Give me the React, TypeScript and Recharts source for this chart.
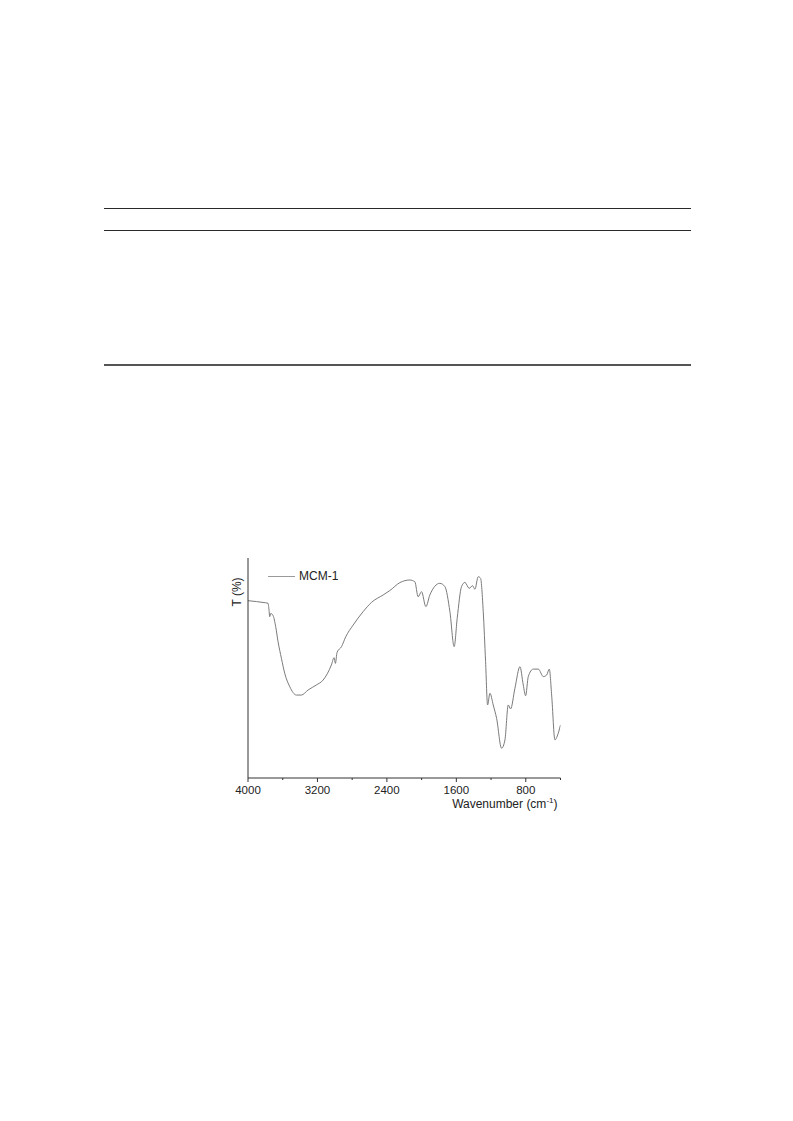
import React from 'react'
import { LineChart, Line, XAxis, YAxis } from 'recharts'

// FTIR spectrum of MCM-1, wavenumber (cm-1) vs transmittance (arb. %)
const WAVENUMBER = [
  4000, 3904, 3827, 3769, 3758, 3750, 3738, 3711, 3681, 3654, 3615, 3577,
  3519, 3442, 3385, 3308, 3212, 3135, 3039, 3008, 2993, 2974, 2923, 2874,
  2789, 2674, 2578, 2443, 2366, 2251, 2136, 2078, 2040, 2001, 1951, 1905,
  1790, 1732, 1674, 1625, 1590, 1540, 1501, 1452, 1413, 1386, 1348, 1321,
  1290, 1263, 1240, 1213, 1175, 1136, 1079, 1040, 1002, 975, 925, 867,
  829, 802, 771, 714, 656, 598, 560, 529, 502, 464, 437, 400,
]
const TRANSMITTANCE = [
  80.6, 80.2, 79.8, 79.4, 76.4, 73.3, 74.8, 73.8, 68.8, 62.0, 54.4, 47.6,
  41.5, 37.7, 37.7, 40.0, 42.3, 44.5, 51.4, 54.7, 52.1, 57.1, 59.7, 64.2,
  69.5, 75.6, 79.8, 83.2, 85.2, 88.8, 90.0, 89.2, 82.4, 84.7, 77.9, 83.2,
  88.5, 87.0, 75.6, 59.7, 72.6, 87.0, 88.9, 86.2, 87.4, 85.8, 91.5, 90.8,
  75.6, 52.9, 33.2, 38.5, 33.2, 27.1, 13.5, 17.3, 33.2, 31.4, 40.8, 50.6,
  42.3, 37.4, 46.1, 49.5, 49.5, 46.1, 46.8, 49.5, 37.7, 17.3, 19.1, 24.1,
]
const X_TICKS = [4000, 3600, 3200, 2800, 2400, 2000, 1600, 1200, 800, 400]
const X_LABELS = [4000, 3200, 2400, 1600, 800]
const SERIES_NAME = 'MCM-1'

const spectrum = WAVENUMBER.map((wn, i) => ({ wn, t: TRANSMITTANCE[i] }))

const AXIS = '#333333'
const TRACE = '#7a7a7a'
const FONT = '"Liberation Sans", Arial, sans-serif'

function WavenumberTick(props: any) {
  const { x, y, payload } = props
  const major = X_LABELS.includes(payload.value)
  return (
    <g>
      <line x1={x} x2={x} y1={y} y2={y + (major ? 4 : 2)} stroke={AXIS} strokeWidth={1} />
      {major && (
        <text x={x} y={y + 16} textAnchor="middle" fontSize={11.5} fontFamily={FONT} fill="#222">
          {payload.value}
        </text>
      )}
    </g>
  )
}

function XTitle(props: any) {
  const { viewBox } = props
  const right = viewBox.x + viewBox.width - 3
  return (
    <text x={right} y={viewBox.y + 30} textAnchor="end" fontSize={12} fontFamily={FONT} fill="#222">
      Wavenumber (cm
      <tspan dy={-5} fontSize={8}>-1</tspan>
      <tspan dy={5}>)</tspan>
    </text>
  )
}

function YTitle(props: any) {
  const { viewBox } = props
  const cx = viewBox.x - 1
  const cy = viewBox.y + 34
  return (
    <text
      x={cx}
      y={cy}
      transform={`rotate(-90 ${cx} ${cy})`}
      textAnchor="middle"
      dominantBaseline="central"
      fontSize={12}
      fontFamily={FONT}
      fill="#222"
    >
      T (%)
    </text>
  )
}

function TableRules() {
  const rule = (top: number, color: string, h: number) => (
    <div
      style={{
        position: 'absolute',
        left: 104,
        width: 587,
        top,
        height: h,
        background: color,
      }}
    />
  )
  return (
    <>
      {rule(208, '#2a2a2a', 1)}
      {rule(230, '#2a2a2a', 1)}
      {rule(364, '#555555', 1.5)}
    </>
  )
}

export default function App() {
  return (
    <div
      style={{
        position: 'absolute',
        left: 0,
        top: 0,
        width: 793,
        height: 1121,
        background: '#fff',
        overflow: 'hidden',
      }}
    >
      <TableRules />
      <div style={{ position: 'absolute', left: 200, top: 540, width: 380, height: 280 }}>
        <LineChart
          width={380}
          height={280}
          data={spectrum}
          margin={{ top: 18, right: 19.5, bottom: 12, left: 38 }}
        >
          <XAxis
            dataKey="wn"
            type="number"
            domain={[400, 4000]}
            reversed
            ticks={X_TICKS}
            interval={0}
            allowDataOverflow
            tickSize={0}
            tickMargin={0}
            tickLine={false}
            axisLine={{ stroke: AXIS, strokeWidth: 1 }}
            tick={<WavenumberTick />}
            height={30}
            label={<XTitle />}
          />
          <YAxis
            type="number"
            domain={[0, 100]}
            width={10}
            tick={false}
            tickLine={false}
            axisLine={{ stroke: AXIS, strokeWidth: 1 }}
            label={<YTitle />}
          />
          <Line
            type="monotone"
            dataKey="t"
            name={SERIES_NAME}
            stroke={TRACE}
            strokeWidth={1}
            dot={false}
            isAnimationActive={false}
          />
        </LineChart>
        <div
          style={{
            position: 'absolute',
            left: 68,
            top: 29,
            display: 'flex',
            alignItems: 'center',
            fontFamily: FONT,
            fontSize: 12,
            color: '#222',
          }}
        >
          <div style={{ width: 27, height: 1, background: '#9a9a9a', marginRight: 4 }} />
          {SERIES_NAME}
        </div>
      </div>
    </div>
  )
}
